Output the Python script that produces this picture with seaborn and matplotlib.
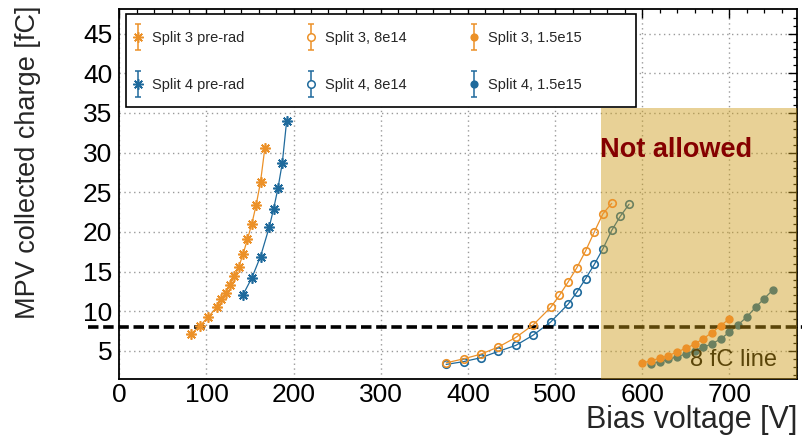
import numpy as np
import pandas as pd
import matplotlib
matplotlib.use("Agg")
import matplotlib.pyplot as plt
import seaborn as sns
from matplotlib.patches import Rectangle
from matplotlib.container import ErrorbarContainer
from matplotlib.legend_handler import HandlerErrorbar

# ---------------- data ----------------
v_s3_pre = [82, 92, 102, 112, 117, 122, 127, 132, 137, 142, 147, 152, 157, 162, 167]
q_s3_pre = [7.1, 8.1, 9.3, 10.5, 11.5, 12.3, 13.3, 14.4, 15.6, 17.2, 19.1, 21.0, 23.4, 26.3, 30.6]

v_s4_pre = [142, 152, 162, 172, 177, 182, 187, 192]
q_s4_pre = [12.1, 14.2, 16.9, 20.6, 22.9, 25.5, 28.7, 34.0]

v_s3_8e14 = [375, 395, 415, 435, 455, 475, 495, 505, 515, 525, 535, 545, 555, 565]
q_s3_8e14 = [3.5, 4.0, 4.6, 5.5, 6.7, 8.3, 10.5, 12.0, 13.7, 15.5, 17.6, 20.0, 22.3, 23.6]

v_s4_8e14 = [375, 395, 415, 435, 455, 475, 495, 515, 525, 535, 545, 555, 565, 575, 585]
q_s4_8e14 = [3.3, 3.65, 4.15, 4.95, 5.7, 7.0, 8.65, 10.9, 12.4, 14.1, 15.9, 17.9, 20.2, 22.0, 23.5]

v_s3_15e15 = [600, 610, 620, 630, 640, 650, 660, 670, 680, 690, 700]
q_s3_15e15 = [3.45, 3.77, 4.07, 4.4, 4.87, 5.33, 5.84, 6.55, 7.3, 8.2, 9.03]

v_s4_15e15 = [610, 620, 630, 640, 650, 660, 670, 680, 690, 700, 710, 720, 730, 740, 750]
q_s4_15e15 = [3.4, 3.61, 3.94, 4.28, 4.62, 5.04, 5.46, 5.9, 6.5, 7.37, 8.3, 9.28, 10.5, 11.6, 12.7]

labels = ["Split 3 pre-rad", "Split 3, 8e14", "Split 3, 1.5e15",
          "Split 4 pre-rad", "Split 4, 8e14", "Split 4, 1.5e15"]

threshold = 8.0
forbidden_from = 553.0
forbidden_top = 35.6

ORANGE = "#EC9128"
BLUE = "#1F6A9C"
SHADE = "#CC9B16"

# ---------------- style ----------------
sns.set_style("white")
plt.rcParams["font.family"] = ["Liberation Sans", "DejaVu Sans"]

fig = plt.figure(figsize=(8.02, 4.37), dpi=100)
ax = fig.add_axes([0.1488, 0.1327, 0.8454, 0.8467])

STAR = (8, 2, 0)

series = [
    (v_s3_pre, q_s3_pre, ORANGE, STAR, True, 7.5, 4),
    (v_s4_pre, q_s4_pre, BLUE, STAR, True, 7.5, 2),
    (v_s3_8e14, q_s3_8e14, ORANGE, "o", False, 5.4, 4),
    (v_s4_8e14, q_s4_8e14, BLUE, "o", False, 5.4, 2),
    (v_s3_15e15, q_s3_15e15, ORANGE, "o", True, 4.8, 4),
    (v_s4_15e15, q_s4_15e15, BLUE, "o", True, 4.8, 2),
]

for v, q, col, mk, filled, ms, z in series:
    df = pd.DataFrame({"V": v, "Q": q})
    sns.lineplot(data=df, x="V", y="Q", ax=ax, color=col, marker=mk,
                 markersize=ms, markeredgecolor=col, markeredgewidth=1.2,
                 linewidth=0.9, zorder=z, legend=False)
    line = ax.lines[-1]
    line.set_markerfacecolor(col if filled else "none")

# threshold line (extends past the left axis)
ax.axhline(threshold, xmin=-0.046, xmax=1.01, color="black", lw=2.6,
           linestyle=(0, (2.9, 1.3)), clip_on=False, zorder=2)
ax.text(655, 3.1, "8 fC line", fontsize=17, color="black", zorder=2,
        ha="left", va="baseline")

# forbidden region
ax.add_patch(Rectangle((forbidden_from, 0), 400, forbidden_top, facecolor=SHADE,
                       edgecolor="none", alpha=0.45, zorder=3))
ax.text(639, 29.4, "Not allowed", fontsize=19.5, fontweight="bold",
        color="#850000", ha="center", va="baseline", zorder=6)

ax.set_xlim(0, 778)
ax.set_ylim(1.46, 48.1)
ax.set_xticks(np.arange(0, 701, 100))
ax.set_xticks(np.arange(0, 778, 20), minor=True)
ax.set_yticks(np.arange(5, 46, 5))
ax.set_yticks(np.arange(2, 48, 1), minor=True)

ax.grid(True, which="major", color="#9a9a9a", linestyle=(0, (1, 2.5)), linewidth=1.0)
ax.set_axisbelow(True)
ax.tick_params(which="both", direction="in", top=True, right=True,
               labelsize=19, colors="black")
ax.tick_params(which="major", length=6.5, width=1.0)
ax.tick_params(axis="x", which="major", pad=3)
ax.tick_params(axis="y", which="major", pad=5)
ax.tick_params(which="minor", length=3.2, width=0.9)
for s in ax.spines.values():
    s.set_color("black")
    s.set_linewidth(1.3)

ax.set_xlabel("Bias voltage [V]", fontsize=22, ha="right", va="center")
ax.xaxis.set_label_coords(1.0, -0.111)
ax.set_ylabel("MPV collected charge [fC]", fontsize=19.5, va="center")
ax.yaxis.set_label_coords(-0.134, 0.585)

# legend frame
ax.add_patch(Rectangle((0.0099, 0.735), 0.752, 0.251, transform=ax.transAxes,
                       facecolor="white", edgecolor="black", lw=1.2, zorder=7))

handles = []
specs = [(ORANGE, STAR, True, 7.5), (ORANGE, "o", False, 5.4), (ORANGE, "o", True, 4.8),
         (BLUE, STAR, True, 7.5), (BLUE, "o", False, 5.4), (BLUE, "o", True, 4.8)]
for col, mk, filled, ms in specs:
    h = ax.errorbar([np.nan], [np.nan], yerr=[1.0], color=col, marker=mk,
                    markersize=ms, markeredgecolor=col, markeredgewidth=1.1,
                    markerfacecolor=col if filled else "white",
                    linestyle="none", elinewidth=1.1, capsize=2.5)
    handles.append(h)

# order for ncol=3 column-major filling
order = [0, 3, 1, 4, 2, 5]
leg = ax.legend([handles[i] for i in order], [labels[i] for i in order],
                ncol=3, loc="upper left", bbox_to_anchor=(0.0168, 0.94),
                frameon=False, fontsize=10.5, handlelength=1.0,
                handletextpad=0.45, columnspacing=4.1, labelspacing=2.28,
                borderaxespad=0, borderpad=0,
                handler_map={ErrorbarContainer: HandlerErrorbar(yerr_size=0.9)})
leg.set_zorder(8)

fig.savefig("out.png", dpi=100)
